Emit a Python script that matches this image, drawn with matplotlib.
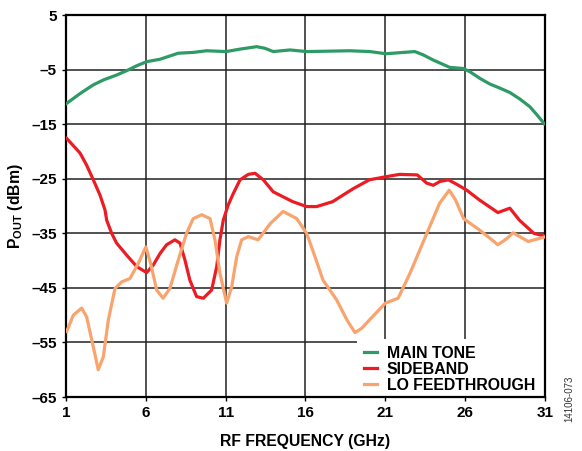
import numpy as np
import matplotlib
matplotlib.use('Agg')
import matplotlib.pyplot as plt
from matplotlib.patches import Rectangle

plt.rcParams['font.family'] = ['Liberation Sans', 'DejaVu Sans']
plt.rcParams['font.weight'] = 'bold'
plt.rcParams['mathtext.fontset'] = 'custom'
plt.rcParams['mathtext.rm'] = 'Liberation Sans:bold'
plt.rcParams['mathtext.bf'] = 'Liberation Sans:bold'

# Dados (GHz, dBm)
main_x = [1.04, 1.46, 1.88, 2.29, 2.71, 3.34, 4.17, 4.8, 5.43, 6.05, 6.89, 7.51, 8.03, 8.97,
          9.81, 11.02, 11.9, 12.94, 13.46, 13.98, 15.03, 16.07, 18.78, 20.04, 21.04, 21.91,
          22.85, 23.37, 24.0, 25.04, 25.88, 26.3, 26.92, 27.55, 28.18, 28.8, 29.43, 30.05,
          30.47, 30.95]
main_y = [-11.2, -10.3, -9.4, -8.6, -7.8, -6.9, -6.0, -5.2, -4.3, -3.55, -3.1, -2.5, -2.0,
          -1.85, -1.55, -1.7, -1.25, -0.8, -1.1, -1.7, -1.4, -1.7, -1.55, -1.7, -2.1, -1.9,
          -1.7, -2.3, -3.25, -4.6, -4.8, -5.4, -6.6, -7.65, -8.4, -9.2, -10.4, -11.8, -13.2,
          -14.9]

side_x = [1.04, 1.88, 2.29, 2.71, 3.13, 3.44, 3.55, 3.86, 4.17, 4.8, 5.43, 6.05, 6.47, 6.89,
          7.3, 7.82, 8.14, 8.45, 8.76, 9.18, 9.6, 10.12, 10.44, 10.64, 10.85, 11.16, 11.48,
          11.9, 12.42, 12.84, 13.36, 13.98, 15.2, 16.07, 16.7, 17.7, 19.0, 20.0, 21.1, 21.9,
          23.0, 23.59, 24.0, 24.42, 24.95, 25.46, 26.1, 26.9, 28.05, 28.8, 29.4, 30.3, 30.95]
side_y = [-17.6, -20.3, -22.5, -25.2, -28.0, -30.7, -32.6, -35.0, -36.8, -39.0, -41.1, -42.2,
          -40.8, -38.7, -37.1, -36.2, -36.8, -39.9, -43.6, -46.6, -46.9, -45.4, -41.1, -36.2,
          -32.6, -29.8, -27.7, -25.2, -24.2, -24.0, -25.2, -27.4, -29.2, -30.1, -30.1, -29.2,
          -26.8, -25.2, -24.6, -24.2, -24.3, -25.8, -26.2, -25.5, -25.2, -26.0, -27.1, -28.9,
          -31.2, -30.4, -32.6, -35.0, -35.5]

lo_x = [1.04, 1.46, 1.98, 2.29, 2.71, 3.02, 3.34, 3.65, 4.07, 4.49, 5.0, 5.53, 6.0, 6.3, 6.68,
        7.08, 7.51, 8.03, 8.55, 8.97, 9.5, 10.02, 10.33, 10.64, 11.06, 11.38, 11.69, 12.0,
        12.42, 13.03, 13.8, 14.6, 15.45, 16.07, 16.5, 17.1, 17.95, 18.6, 19.1, 19.52, 20.0,
        21.0, 21.8, 22.55, 23.6, 24.4, 25.0, 25.4, 25.9, 26.9, 27.55, 28.05, 28.6, 29.0,
        29.95, 30.95]
lo_y = [-53.0, -50.0, -48.7, -50.3, -55.8, -60.0, -57.6, -50.9, -45.1, -43.9, -43.3, -40.5,
        -37.5, -40.5, -45.4, -46.9, -45.1, -39.9, -35.0, -32.3, -31.6, -32.3, -36.2, -42.3,
        -47.8, -44.8, -39.3, -36.2, -35.6, -36.2, -33.2, -31.0, -32.3, -35.0, -38.5, -43.6,
        -47.2, -50.9, -53.2, -52.4, -50.9, -47.8, -46.9, -42.3, -35.0, -29.5, -27.1, -28.9,
        -32.3, -34.4, -35.9, -37.1, -36.0, -34.9, -36.5, -35.7]

x_ticks = [1, 6, 11, 16, 21, 26, 31]
y_ticks = [5, -5, -15, -25, -35, -45, -55, -65]

fig = plt.figure(figsize=(5.82, 4.51), dpi=100)
ax = fig.add_axes([0.1134, 0.1197, 0.823, 0.847])

lw = 2.3
ax.plot(main_x, main_y, color='#2e9a66', lw=lw, label='MAIN TONE', solid_joinstyle='round', zorder=3)
ax.plot(side_x, side_y, color='#ec1c24', lw=lw, label='SIDEBAND', solid_joinstyle='round', zorder=3)
ax.plot(lo_x, lo_y, color='#f9a46e', lw=lw, label='LO FEEDTHROUGH', solid_joinstyle='round', zorder=3)

ax.set_xlim(1, 31)
ax.set_ylim(-65, 5)
ax.set_xticks(x_ticks)
ax.set_yticks(y_ticks)
ax.set_yticklabels([str(v).replace('-', '\u2013') for v in y_ticks])
ax.tick_params(labelsize=11, length=3, width=1)
ax.grid(True, color='#222222', lw=1.1)
for s in ax.spines.values():
    s.set_linewidth(1.6)

ax.set_xlabel('RF FREQUENCY (GHz)', fontsize=11.3, fontweight='bold', labelpad=10)
ax.set_ylabel(r'P$_{\mathregular{OUT}}$ (dBm)', fontsize=11.3, fontweight='bold', labelpad=5)

# fundo branco da legenda por cima da grelha
ax.add_patch(Rectangle((0.6075, 0), 0.3925, 0.1518, transform=ax.transAxes,
                       facecolor='white', edgecolor='none', zorder=2.5))
leg = ax.legend(loc='upper left', bbox_to_anchor=(0.6075, 0.1518), borderaxespad=0,
                frameon=False, handlelength=0.85, handletextpad=0.6, labelspacing=0.07,
                fontsize=11.4, borderpad=0.42)
for line in leg.get_lines():
    line.set_linewidth(2.3)

fig.text(0.978, 0.115, '14106-073', rotation=90, fontsize=7, fontweight='normal',
         color='#333333', ha='center', va='center')

fig.savefig('out.png', dpi=100)
